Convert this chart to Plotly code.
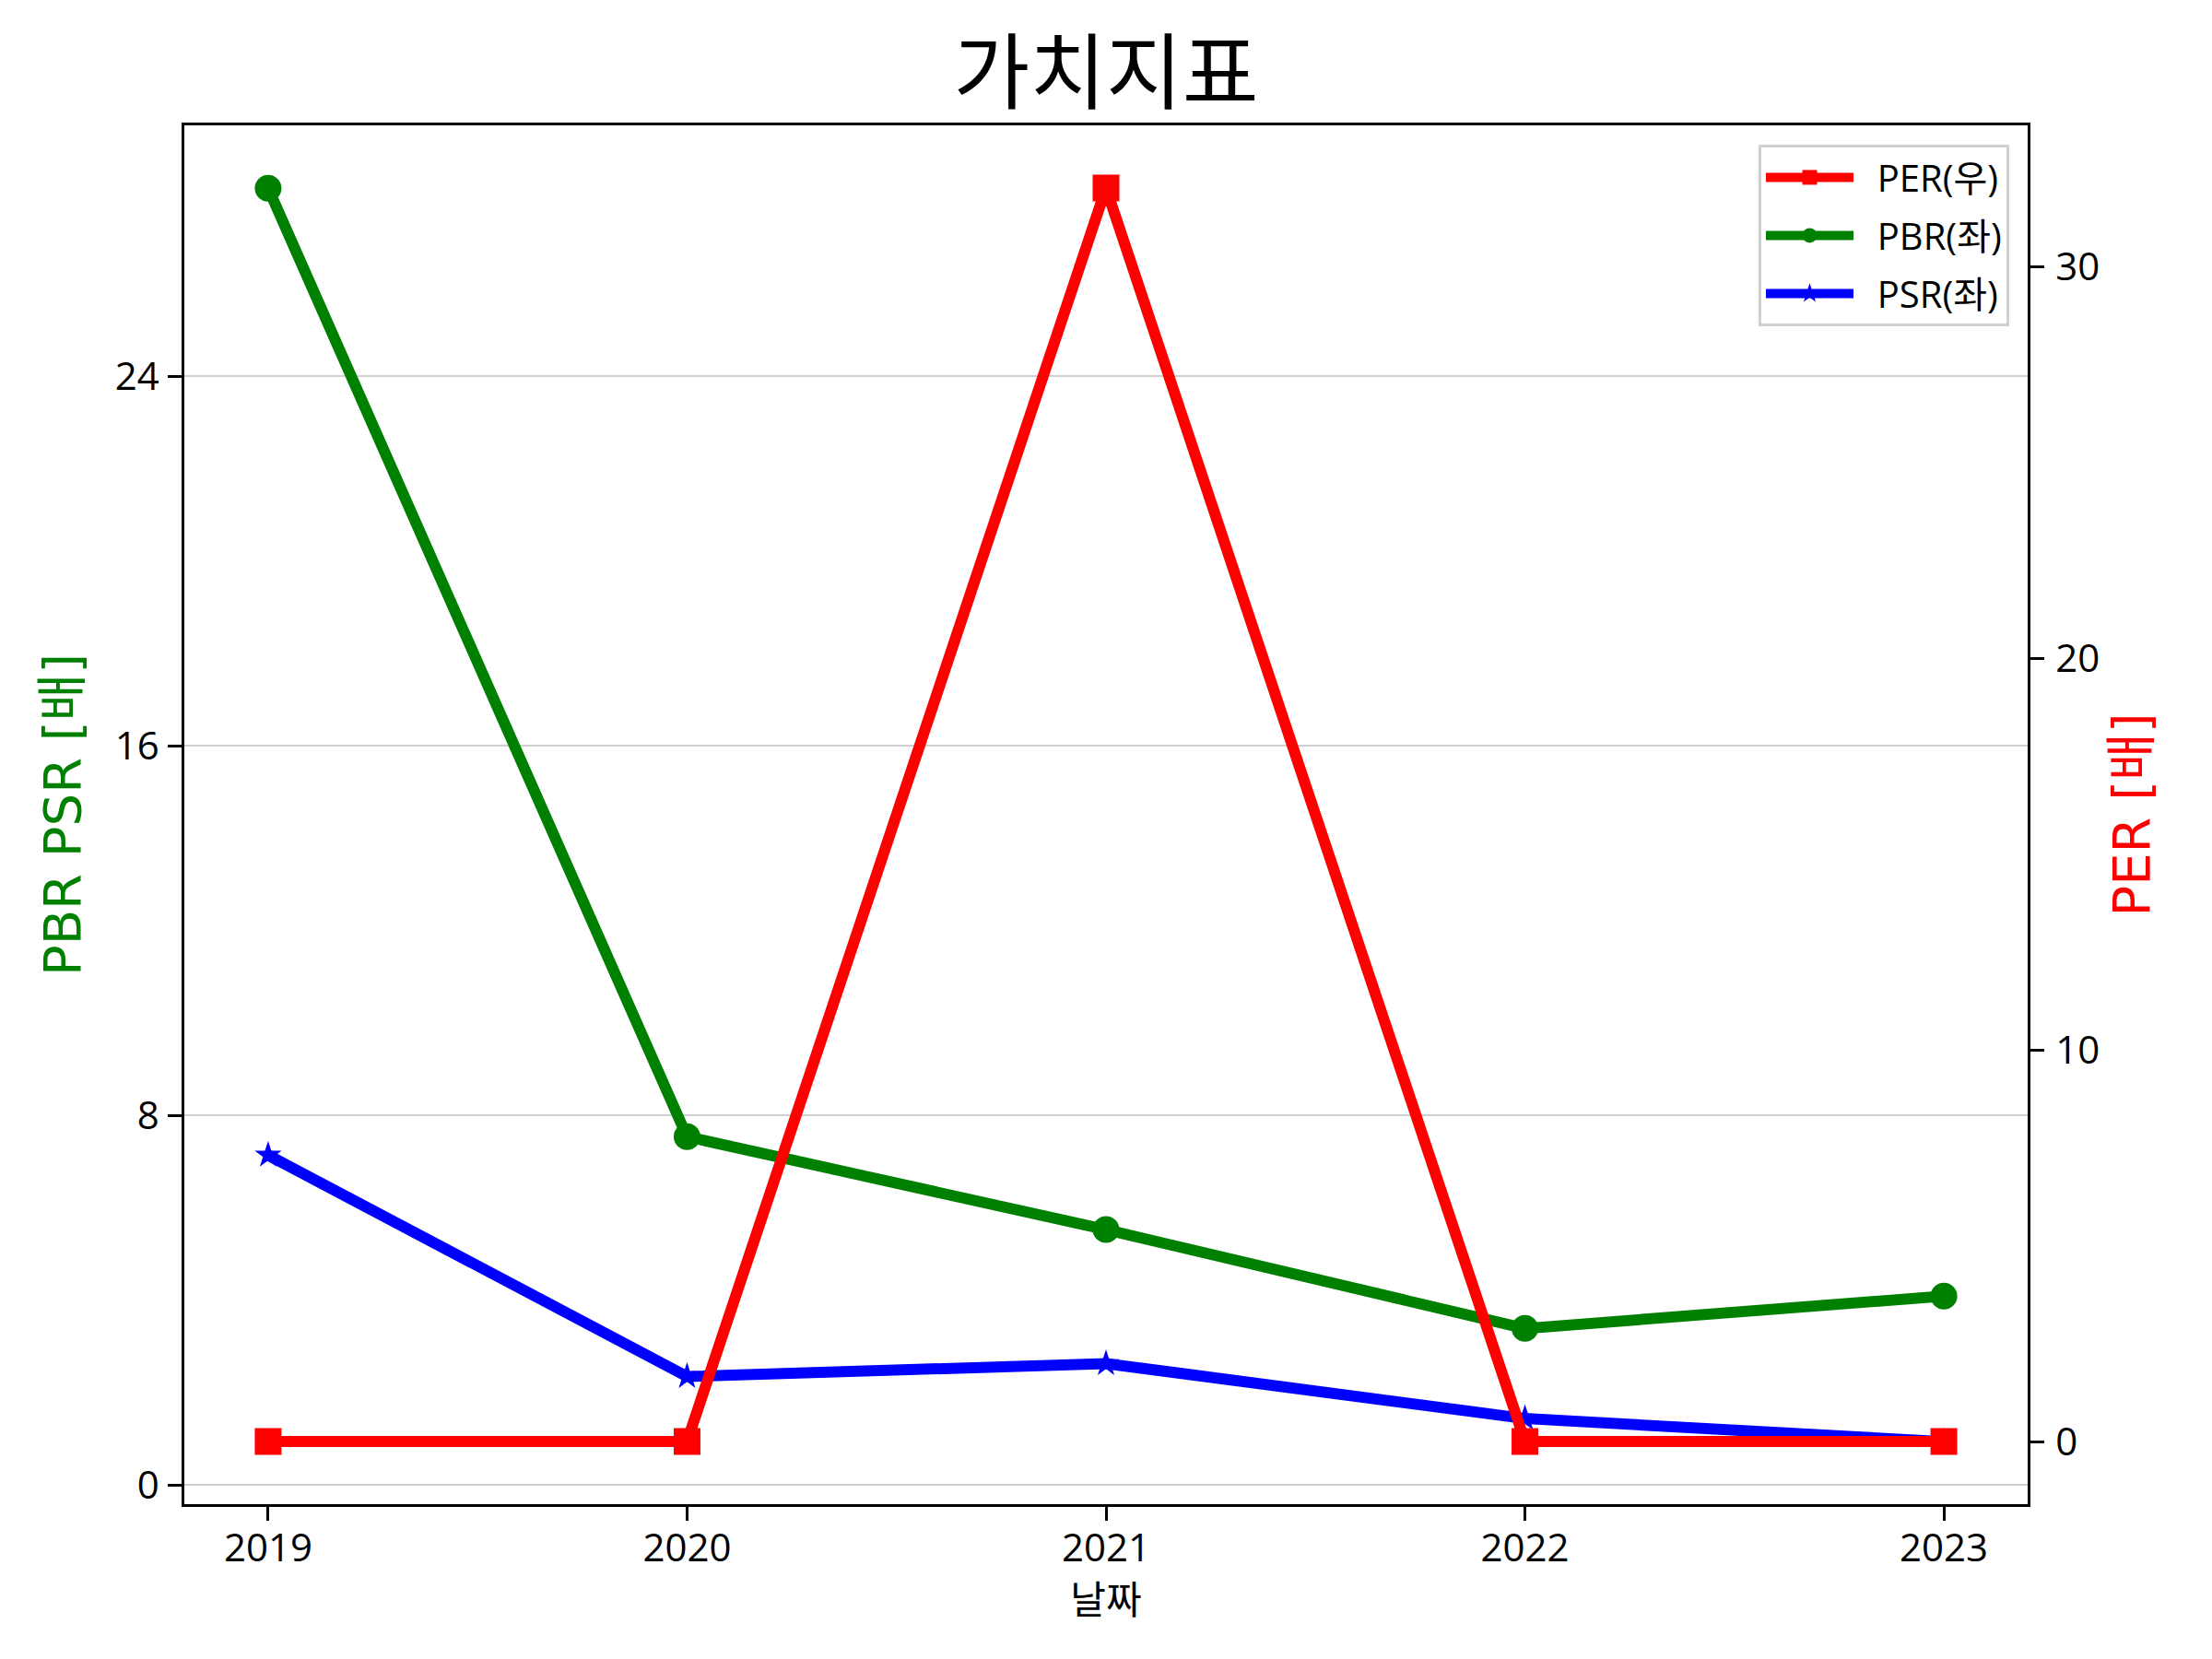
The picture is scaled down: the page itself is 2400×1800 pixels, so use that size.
import plotly.graph_objects as go

years = [2019, 2020, 2021, 2022, 2023]
per = [0, 0, 32, 0, 0]
pbr = [28.07, 7.54, 5.53, 3.39, 4.09]
psr = [7.14, 2.35, 2.63, 1.44, 0.94]

base_font = "Open Sans, Noto Sans CJK KR, sans-serif"
label_font = "DejaVu Sans, Noto Sans CJK KR, sans-serif"
gap = "\u00a0\u00a0"  # small gap between the legend line and its text

fig = go.Figure()

fig.add_trace(go.Scatter(
    x=years, y=pbr, name=gap + "PBR(좌)", mode="lines+markers",
    line=dict(color="green", width=12),
    marker=dict(symbol="circle", size=29, color="green"),
    legendrank=2, legendgroup="pbr"
))
fig.add_trace(go.Scatter(
    x=years, y=psr, name=gap + "PSR(좌)", mode="lines+markers",
    line=dict(color="blue", width=12),
    marker=dict(symbol="star", size=22, color="blue"),
    legendrank=3, legendgroup="psr"
))
fig.add_trace(go.Scatter(
    x=years, y=per, name=gap + "PER(우)", mode="lines+markers", yaxis="y2",
    line=dict(color="red", width=12),
    marker=dict(symbol="square", size=29, color="red"),
    legendrank=1, legendgroup="per"
))

axis_common = dict(
    showline=True, linecolor="black", linewidth=3.3,
    ticks="outside", ticklen=14.6, tickwidth=3.3, tickcolor="black",
    tickfont=dict(size=42, color="black", family=base_font),
    zeroline=False
)

# page body has an 8px margin, so the margins are shifted to compensate
fig.update_layout(
    width=2400, height=1800,
    paper_bgcolor="white", plot_bgcolor="white",
    margin=dict(l=192, r=208, t=128, b=176),
    font=dict(family=base_font, color="black"),
    title=dict(
        text="가치지표", x=0.5, xref="paper", xanchor="center",
        y=1 - 71 / 1800, yref="container", yanchor="middle",
        font=dict(size=90, family="Noto Sans CJK KR, sans-serif", color="black")
    ),
    xaxis=dict(
        axis_common, range=[2018.8, 2023.2], tickvals=years,
        tickformat="d", mirror=True, showgrid=False, ticklabelstandoff=-6,
        title=dict(text="날짜", font=dict(size=42, family=base_font), standoff=8)
    ),
    yaxis=dict(
        axis_common, range=[-0.413, 29.43], tickvals=[0, 8, 16, 24],
        showgrid=True, gridcolor="#d0d0d0", gridwidth=2, ticklabelstandoff=1,
        title=dict(text="PBR PSR [배]", font=dict(size=56, color="green", family=label_font), standoff=20)
    ),
    yaxis2=dict(
        axis_common, range=[-1.6, 33.6], tickvals=[0, 10, 20, 30],
        overlaying="y", side="right", showgrid=False, ticklabelstandoff=4,
        title=dict(text="PER [배]", font=dict(size=56, color="red", family=label_font), standoff=16)
    ),
    legend=dict(
        x=0.99, y=0.986, xanchor="right", yanchor="top",
        bgcolor="rgba(255,255,255,0.8)", bordercolor="#d0d0d0", borderwidth=3,
        font=dict(size=40, family=base_font, color="black"),
        itemwidth=95, tracegroupgap=8, traceorder="grouped"
    ),
    showlegend=True
)

fig.write_html("out.html")
